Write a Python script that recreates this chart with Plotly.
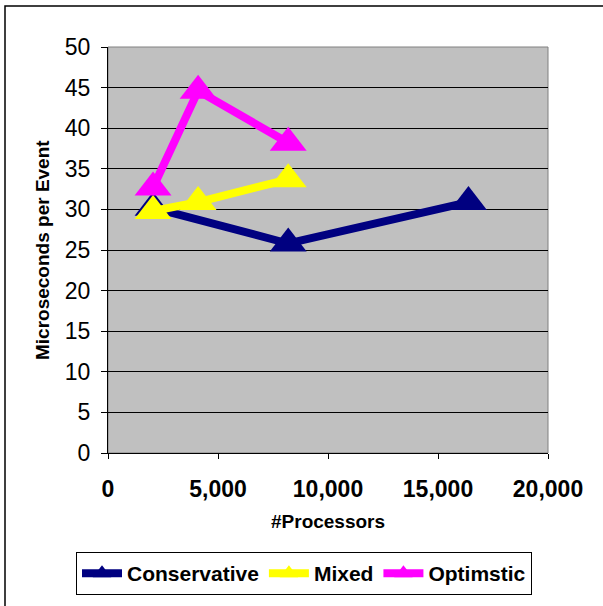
import plotly.graph_objects as go

cons_x = [2048, 8192, 16384]
cons_y = [30.2, 25.8, 30.9]
mixed_x = [2048, 4096, 8192]
mixed_y = [29.8, 30.9, 33.7]
opt_x = [2048, 4096, 8192]
opt_y = [32.7, 44.6, 38.2]

FONT = "Liberation Sans, Arial, sans-serif"

fig = go.Figure()
for name, xs, ys, col in [("Conservative", cons_x, cons_y, "#000080"),
                          ("Mixed", mixed_x, mixed_y, "#FFFF00"),
                          ("Optimstic", opt_x, opt_y, "#FF00FF")]:
    fig.add_trace(go.Scatter(x=xs, y=ys, name=name, mode="lines+markers",
                             line=dict(color=col, width=8),
                             marker=dict(symbol="triangle-up", size=32, color=col,
                                         line=dict(width=0))))

fig.update_layout(
    width=603, height=606,
    margin=dict(l=108, r=55, t=47, b=152),
    paper_bgcolor="white", plot_bgcolor="#C0C0C0",
    font=dict(family=FONT, color="black"),
    showlegend=True,
    legend=dict(orientation="h", x=(76 - 108) / 440, y=(454 - 552) / 407,
                xanchor="left", yanchor="top",
                bordercolor="black", borderwidth=1, bgcolor="white",
                font=dict(family=FONT, size=21, weight="bold"),
                itemwidth=40, tracegroupgap=0),
    xaxis=dict(range=[0, 20000], dtick=5000, tickformat=",d",
               showgrid=False, zeroline=False, showline=True, linecolor="black", linewidth=1,
               ticks="outside", ticklen=5, tickcolor="black",
               tickfont=dict(family=FONT, size=23, weight="bold"),
               ticklabelstandoff=10),
    yaxis=dict(range=[0, 50], dtick=5,
               showgrid=True, gridcolor="black", gridwidth=1,
               zeroline=False, showline=True, linecolor="black", linewidth=1,
               ticks="outside", ticklen=6, tickcolor="black",
               tickfont=dict(family=FONT, size=23),
               ticklabelstandoff=6),
    annotations=[
        dict(text="#Processors", xref="paper", yref="paper", x=0.5, y=(454 - 523) / 407,
             xanchor="center", yanchor="middle", showarrow=False,
             font=dict(family=FONT, size=19, weight="bold")),
        dict(text="Microseconds per Event", xref="paper", yref="paper",
             x=(42 - 108) / 440, y=0.5, textangle=-90,
             xanchor="center", yanchor="middle", showarrow=False,
             font=dict(family=FONT, size=19, weight="bold")),
    ],
    shapes=[
        dict(type="rect", xref="paper", yref="paper", x0=0, y0=0, x1=1, y1=1,
             line=dict(color="#808080", width=1), layer="below"),
        dict(type="rect", xref="paper", yref="paper",
             x0=(5 - 108) / 440, y0=(454 - 640) / 407, x1=(640 - 108) / 440, y1=(454 - 6) / 407,
             line=dict(color="black", width=1.5), layer="above"),
    ],
)

fig.write_html("out.html", config={"displayModeBar": False},
               post_script="document.body.style.margin='0';")
